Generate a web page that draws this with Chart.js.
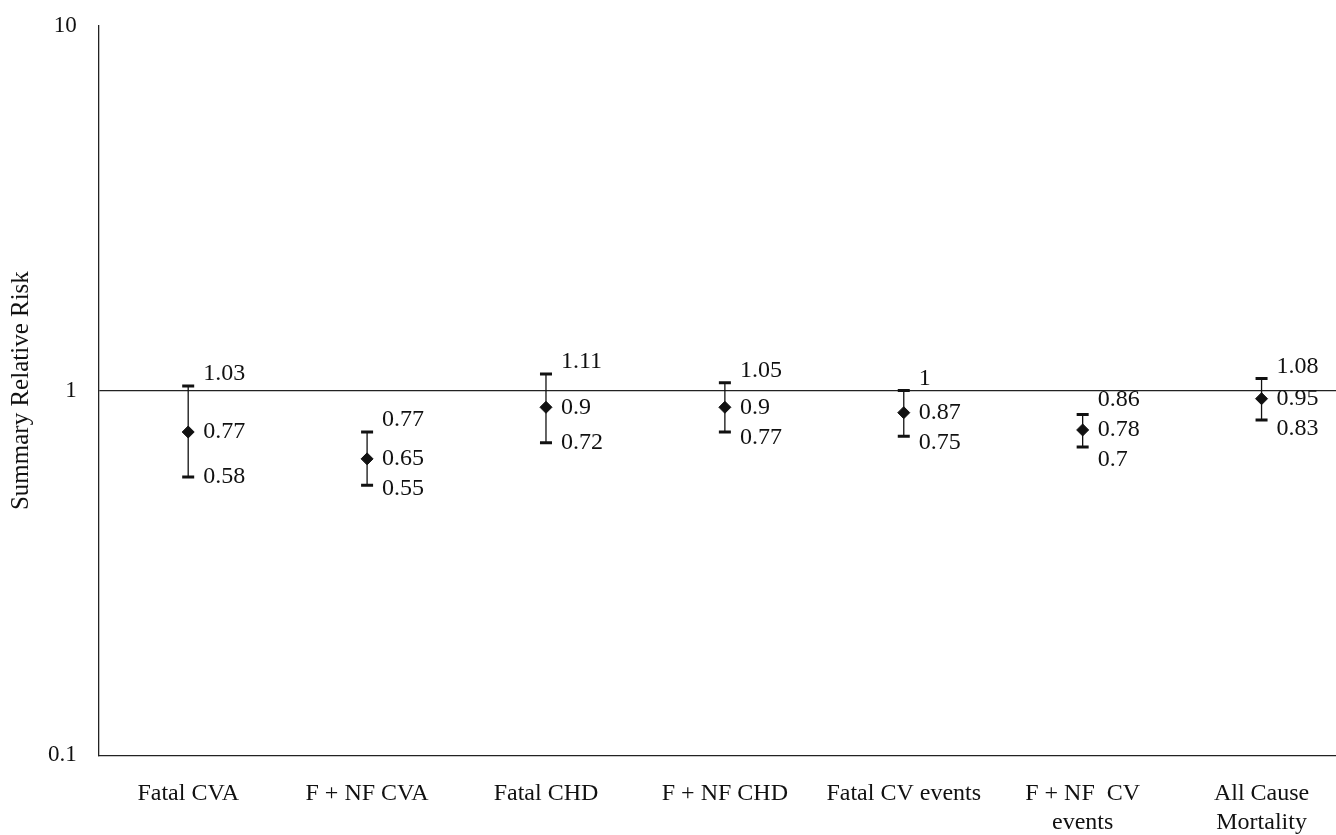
<!DOCTYPE html>
<html>
<head>
<meta charset="utf-8">
<script src="https://cdn.jsdelivr.net/npm/chart.js@4.4.1/dist/chart.umd.min.js"></script>
<style>
  body { margin: 0; background: #fff; overflow: hidden; }
  .wrap { width: 1358px; height: 871px; margin-top: -10px; }
</style>
</head>
<body>
<div class="wrap"><canvas id="rr"></canvas></div>
<script>
// outcomes and summary RR with 95% CI
const outcomes = ["Fatal CVA", "F + NF CVA", "Fatal CHD", "F + NF CHD", "Fatal CV events", ["F + NF  CV", "events"], ["All Cause", "Mortality"]];
const rr = [0.77, 0.65, 0.9, 0.9, 0.87, 0.78, 0.95];
const lower = [0.58, 0.55, 0.72, 0.77, 0.75, 0.7, 0.83];
const upper = [1.03, 0.77, 1.11, 1.05, 1, 0.86, 1.08];
const yTicks = [0.1, 1, 10];

const FONT = "'Liberation Serif', 'DejaVu Serif', serif";

const errorBars = {
  id: "errorBars",
  beforeDatasetsDraw(chart) {
    const ctx = chart.ctx;
    const x = chart.scales.x, y = chart.scales.y;
    ctx.save();
    ctx.strokeStyle = "#111";
    rr.forEach((v, i) => {
      const px = x.getPixelForValue(i);
      const top = y.getPixelForValue(upper[i]);
      const bot = y.getPixelForValue(lower[i]);
      ctx.lineWidth = 1.3;
      ctx.beginPath();
      ctx.moveTo(px, top);
      ctx.lineTo(px, bot);
      ctx.stroke();
      ctx.lineWidth = 3;
      ctx.beginPath();
      ctx.moveTo(px - 6, top); ctx.lineTo(px + 6, top);
      ctx.moveTo(px - 6, bot); ctx.lineTo(px + 6, bot);
      ctx.stroke();
    });
    ctx.restore();
  },
  afterDatasetsDraw(chart) {
    const ctx = chart.ctx;
    const x = chart.scales.x, y = chart.scales.y;
    ctx.save();
    ctx.fillStyle = "#111";
    ctx.font = "24px " + FONT;
    ctx.textBaseline = "middle";
    ctx.textAlign = "left";
    rr.forEach((v, i) => {
      const px = x.getPixelForValue(i) + 15;
      const mid = y.getPixelForValue(v);
      let top = y.getPixelForValue(upper[i]);
      let bot = y.getPixelForValue(lower[i]);
      // keep labels apart
      top = Math.min(top - 12, mid - 30);
      bot = Math.max(bot, mid + 30);
      ctx.fillText(String(upper[i]), px, top);
      ctx.fillText(String(v), px, mid);
      ctx.fillText(String(lower[i]), px, bot);
    });
    ctx.restore();
  }
};

new Chart(document.getElementById("rr"), {
  type: "line",
  data: {
    labels: outcomes,
    datasets: [{
      data: rr,
      showLine: false,
      pointStyle: "rectRot",
      pointRadius: 6,
      pointBackgroundColor: "#111",
      pointBorderColor: "#111"
    }]
  },
  options: {
    responsive: true,
    maintainAspectRatio: false,
    animation: false,
    layout: { padding: { top: 0, left: 6, right: 0, bottom: 0 } },
    plugins: { legend: { display: false }, tooltip: { enabled: false } },
    scales: {
      x: {
        offset: true,
        grid: { display: false, drawTicks: false, offset: true },
        border: { display: true, color: "#222", width: 1.3 },
        ticks: { color: "#111", font: { family: FONT, size: 24, lineHeight: 1.2 }, padding: 24, maxRotation: 0, autoSkip: false }
      },
      y: {
        type: "logarithmic",
        min: 0.1,
        max: 10,
        afterBuildTicks(axis) { axis.ticks = yTicks.map(v => ({ value: v })); },
        grid: {
          drawTicks: false,
          color: c => (c.tick && c.tick.value === 1 ? "#222" : "rgba(0,0,0,0)"),
          lineWidth: 1.3
        },
        border: { display: true, color: "#222", width: 1.3 },
        ticks: {
          color: "#111",
          font: { family: FONT, size: 23 },
          padding: 22,
          callback: v => String(v)
        },
        title: {
          display: true,
          text: "Summary Relative Risk",
          color: "#111",
          font: { family: FONT, size: 25 },
          padding: { top: 0, bottom: -10 }
        }
      }
    }
  },
  plugins: [errorBars]
});
</script>
</body>
</html>
